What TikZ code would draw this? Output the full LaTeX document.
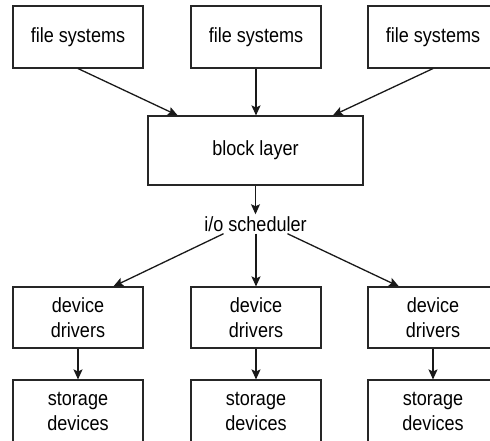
\documentclass[tikz,border=0pt]{standalone}
\usepackage{fontspec}
\setmainfont[FakeStretch=0.88]{Liberation Sans}
\usetikzlibrary{calc,arrows.meta}
\begin{document}
\begin{tikzpicture}[x=1pt,y=-1pt,
  box/.style={draw=black!85,line width=1.1pt,minimum width=130pt,minimum height=62pt,inner sep=0pt,align=center,font=\fontsize{20.5}{25}\selectfont},
  lbl/.style={inner sep=2pt,font=\fontsize{20.5}{25}\selectfont},
  arr/.style={draw=black!90,line width=1.3pt,-{Stealth[length=10pt,width=9pt,inset=2pt]}}]
\useasboundingbox (0,0) rectangle (490,441);
\clip (0,0) rectangle (490,441);
\node[box] (fs1) at (78,37) {file systems};
\node[box] (fs2) at (256,37) {file systems};
\node[box] (fs3) at (433,37) {file systems};
\node[box,minimum width=215pt,minimum height=69pt] (block) at (255.5,150.5) {block layer};
\node[lbl] (sched) at (255.5,224) {i/o scheduler};
\node[box,minimum height=61pt] (dd1) at (78,317.5) {device\\drivers};
\node[box,minimum height=61pt] (dd2) at (256,317.5) {device\\drivers};
\node[box,minimum height=61pt] (dd3) at (433,317.5) {device\\drivers};
\node[box,minimum height=62pt] (sd1) at (78,411) {storage\\devices};
\node[box,minimum height=62pt] (sd2) at (256,411) {storage\\devices};
\node[box,minimum height=62pt] (sd3) at (433,411) {storage\\devices};
\draw[arr] (fs1.south) -- ($(block.north west)!0.14!(block.north east)$);
\draw[arr] (fs2.south) -- (fs2.south |- block.north);
\draw[arr] (fs3.south) -- ($(block.north west)!0.858!(block.north east)$);
\draw[arr] (block.south -| sched.north) -- (sched.north);
\draw[arr] ($(sched.south west)!0.2!(sched.south east)$) -- ($(dd1.north west)!0.77!(dd1.north east)$);
\draw[arr] (sched.south -| dd2.north) -- (dd2.north);
\draw[arr] ($(sched.south west)!0.8!(sched.south east)$) -- ($(dd3.north west)!0.24!(dd3.north east)$);
\draw[arr] (dd1.south) -- (sd1.north);
\draw[arr] (dd2.south) -- (sd2.north);
\draw[arr] (dd3.south) -- (sd3.north);
\end{tikzpicture}
\end{document}
